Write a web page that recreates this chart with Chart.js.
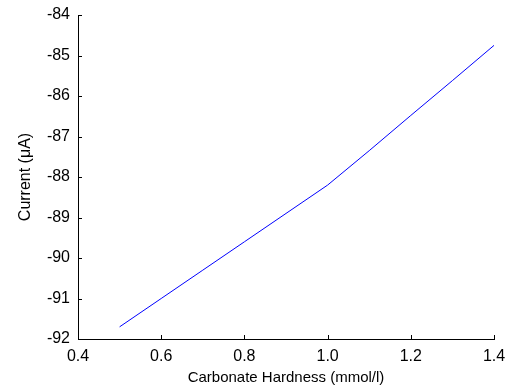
<!DOCTYPE html>
<html>
<head>
<meta charset="utf-8">
<script src="https://cdn.jsdelivr.net/npm/chart.js@4/dist/chart.umd.min.js"></script>
<style>
  body { margin: 0; background: #fff; }
  canvas { display: block; }
</style>
</head>
<body>
<canvas id="hardness-chart" width="509" height="391"></canvas>
<script>
// calibration data: current vs carbonate hardness
const hardness = [0.5, 0.6, 0.7, 0.8, 0.9, 1.0, 1.1, 1.2, 1.3, 1.4]
const current = [-91.70, -91.00, -90.30, -89.60, -88.90, -88.20, -87.35, -86.48, -85.62, -84.75]
const xTicks = [0.4, 0.6, 0.8, 1, 1.2, 1.4]
const yTicks = [-92, -91, -90, -89, -88, -87, -86, -85, -84]

Chart.defaults.font.family = '"Liberation Sans", Arial, sans-serif'
Chart.defaults.color = '#000'

//! ticks drawn inside the plot area, like the old matlab figures
const innerTicks = {
  id: 'innerTicks',
  afterDraw(chart) {
    const ctx = chart.ctx
    const x = chart.scales.x
    const y = chart.scales.y
    const len = 4
    ctx.save()
    ctx.strokeStyle = '#000'
    ctx.lineWidth = 1
    ctx.beginPath()
    xTicks.forEach(v => {
      const px = Math.round(x.getPixelForValue(v)) + 0.5
      ctx.moveTo(px, y.bottom)
      ctx.lineTo(px, y.bottom - len)
    })
    yTicks.forEach(v => {
      const py = Math.round(y.getPixelForValue(v)) + 0.5
      ctx.moveTo(x.left, py)
      ctx.lineTo(x.left + len, py)
    })
    ctx.stroke()
    ctx.restore()
  }
}

const chartCtx = document.getElementById('hardness-chart').getContext('2d')
const myChart = new Chart(chartCtx, {
  type: 'line',
  data: {
    datasets: [{
      data: hardness.map((h, i) => ({ x: h, y: current[i] })),
      borderColor: '#0000ff',
      borderWidth: 1,
      pointRadius: 0,
      tension: 0,
      fill: false
    }]
  },
  options: {
    responsive: false,
    animation: false,
    devicePixelRatio: 1,
    layout: { padding: { top: 15, right: 15, left: 0, bottom: 0 } },
    plugins: { legend: { display: false }, tooltip: { enabled: false } },
    scales: {
      x: {
        type: 'linear',
        min: 0.4,
        max: 1.4,
        afterBuildTicks: s => { s.ticks = xTicks.map(v => ({ value: v })) },
        afterFit: s => { s.height = 52; s.paddingLeft = 0; s.paddingRight = 0 },
        grid: { display: false, drawTicks: false },
        border: { display: true, color: '#000', width: 1 },
        ticks: { font: { size: 16 }, padding: 8, maxRotation: 0 },
        title: { display: true, text: 'Carbonate Hardness (mmol/l)', font: { size: 15 }, padding: { top: 4, bottom: 4 } }
      },
      y: {
        min: -92,
        max: -84,
        afterBuildTicks: s => { s.ticks = yTicks.map(v => ({ value: v })) },
        afterFit: s => { s.width = 78; s.paddingTop = 0; s.paddingBottom = 0 },
        grid: { display: false, drawTicks: false },
        border: { display: true, color: '#000', width: 1 },
        ticks: { font: { size: 16 }, padding: 8 },
        title: { display: true, text: 'Current (\u03bcA)', font: { size: 16 }, padding: { top: 16, bottom: 16 } }
      }
    }
  },
  plugins: [innerTicks]
})
</script>
</body>
</html>
